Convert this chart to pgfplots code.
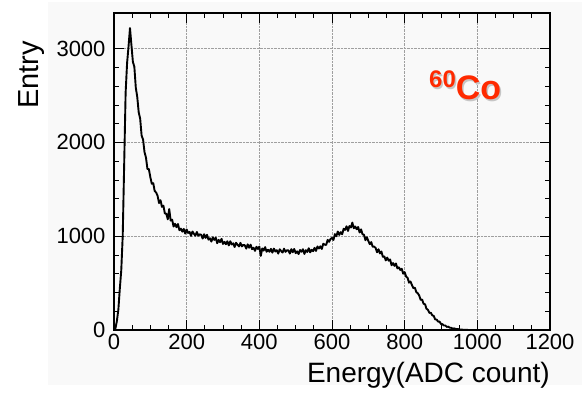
\documentclass[border=0pt]{standalone}
\usepackage{pgfplots}
\pgfplotsset{compat=1.18}
\usepackage{fontspec}
\setmainfont{Liberation Sans}
\definecolor{cored}{HTML}{FF2A00}
\definecolor{bggray}{HTML}{F9F9F9}
\begin{document}
\begin{tikzpicture}
\path[fill=white] (-114pt,-64pt) rectangle (468pt,330pt);
\fill[bggray] (-66pt,-55pt) rectangle (468pt,328pt);
\begin{axis}[
  width=436pt, height=317pt, scale only axis,
  xmin=0, xmax=1200, ymin=0, ymax=3380,
  xtick={0,200,...,1200}, ytick={0,1000,2000,3000},
  minor x tick num=3, minor y tick num=4,
  tick align=inside,
  major tick length=10pt, minor tick length=5pt,
  every tick/.style={black, line width=0.8pt},
  axis line style={line width=1.1pt},
  grid=major,
  major grid style={densely dotted, gray!75, line width=0.5pt},
  /pgf/number format/assume math mode=true,
  /pgf/number format/1000 sep={},
  tick label style={font=\fontsize{22}{22}\selectfont},
  xticklabel style={yshift=-1pt},
  yticklabel style={xshift=-5pt},
  clip mode=individual,
]
\addplot[sharp plot, black, line width=1.9pt, line join=round] table {
x y
0 0
4 17
8 98
12 217
16 440
20 637
24 1003
28 1762
32 2530
36 2845
40 3022
44 3220
48 3036
52 2859
56 2807
60 2584
64 2485
68 2321
72 2254
76 2073
80 2031
84 1897
88 1839
92 1718
96 1715
100 1630
104 1560
108 1566
112 1482
116 1466
120 1430
124 1353
128 1384
132 1313
136 1326
140 1242
144 1240
148 1180
152 1290
156 1166
160 1177
164 1103
168 1133
172 1096
176 1130
180 1064
184 1081
188 1049
192 1078
196 1028
200 1072
204 1035
208 1046
212 1004
216 1050
220 1026
224 1005
228 1045
232 1006
236 1020
240 1015
244 975
248 1021
252 982
256 1015
260 964
264 979
268 943
272 987
276 961
280 985
284 925
288 961
292 936
296 972
300 918
304 940
308 915
312 946
316 902
320 946
324 912
328 924
332 885
336 930
340 909
344 891
348 929
352 892
356 907
360 904
364 868
368 913
372 877
376 910
380 862
384 877
388 844
392 887
396 864
400 889
404 790
408 870
412 847
416 884
420 834
424 856
428 834
432 865
436 825
440 868
444 837
448 851
452 815
456 861
460 842
464 826
468 867
472 833
476 850
480 849
484 815
488 862
492 829
496 864
500 820
504 838
508 810
512 853
516 834
520 861
524 811
528 851
532 832
536 872
540 828
544 855
548 840
552 876
556 843
560 891
564 869
568 892
572 864
576 920
580 910
584 907
588 961
592 940
596 970
600 982
604 960
608 1022
612 1000
616 1050
620 1014
624 1043
628 1021
632 1079
636 1067
640 1106
644 1056
648 1108
652 1093
656 1145
660 1085
664 1104
668 1074
672 1098
676 1040
680 1073
684 1020
688 1016
692 958
696 989
700 950
704 915
708 937
712 887
716 890
720 875
724 829
728 861
732 816
736 837
740 780
744 785
748 742
752 772
756 739
760 752
764 690
768 714
772 684
776 709
780 657
784 668
788 640
792 653
796 600
800 617
804 569
808 557
812 505
816 517
820 480
824 446
828 451
832 404
836 392
840 368
844 321
848 325
852 280
856 275
860 227
864 216
868 183
872 184
876 157
880 150
884 113
888 111
892 90
896 90
900 64
904 62
908 48
912 48
916 33
920 36
924 25
928 23
932 15
936 17
940 12
944 9
948 9
952 5
956 5
960 3
964 2
968 1
972 1
976 0
1200 0
};
\node[anchor=base east, font=\fontsize{28}{28}\selectfont, inner sep=0pt]
  at (rel axis cs:1,-0.167) {Energy(ADC count)};
\node[anchor=base, rotate=90, font=\fontsize{29}{29}\selectfont, inner sep=0pt]
  at (rel axis cs:-0.174,0.804) {Entry};
\node[anchor=base west, inner sep=0pt, text=gray!45, font=\bfseries] at ([shift={(1.5pt,-1.5pt)}]rel axis cs:0.7225,0.7256)
  {\raisebox{12pt}{\fontsize{24}{24}\selectfont 60}\fontsize{34}{34}\selectfont Co};
\node[anchor=base west, inner sep=0pt, text=cored, font=\bfseries] at (rel axis cs:0.7225,0.7256)
  {\raisebox{12pt}{\fontsize{24}{24}\selectfont 60}\fontsize{34}{34}\selectfont Co};
\end{axis}
\end{tikzpicture}
\end{document}
